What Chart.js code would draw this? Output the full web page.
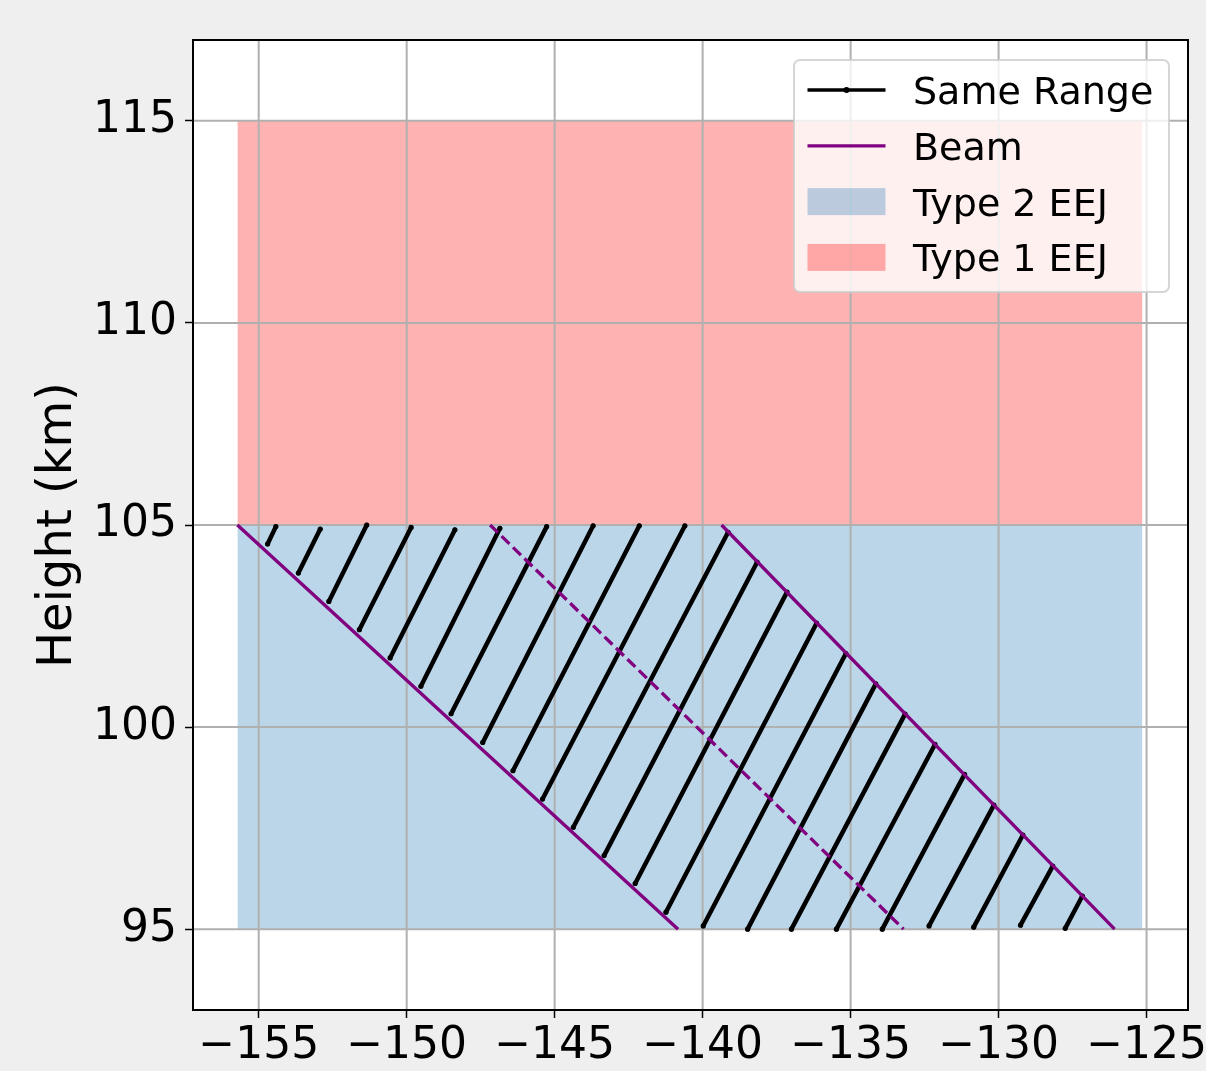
<!DOCTYPE html>
<html>
<head>
<meta charset="utf-8">
<title>Same Range lines across the EEJ layers</title>
<script src="https://cdn.jsdelivr.net/npm/chart.js@4.4.0/dist/chart.umd.min.js"></script>
<style>
  html, body { margin: 0; padding: 0; background: #efefef; }
  #wrap { width: 1206px; height: 1071px; }
</style>
</head>
<body>
<div id="wrap"><canvas id="chart" width="1206" height="1071"></canvas></div>
<script>
// tick values
const xTicks = [-155, -150, -145, -140, -135, -130, -125];
const yTicks = [95, 100, 105, 110, 115];

// EEJ layers: x extent and height limits (km)
const eejX = [-155.72, -125.14];
const type2Y = [95, 105];
const type1Y = [105, 115];

// beam edges + centre, top (105 km) to bottom (95 km)
const beamY = [105, 95];
const beamLowerX = [-155.72, -140.83];
const beamCenterX = [-147.18, -133.21];
const beamUpperX = [-139.36, -126.08];

// same range lines: lower end / upper end of each one
const rangeLowX = [-154.70, -153.66, -152.63, -151.60, -150.56, -149.52, -148.50, -147.43, -146.41, -145.41, -144.37, -143.33,
                   -142.28, -141.24, -139.98, -138.48, -137.00, -135.48, -133.93, -132.35, -130.84, -129.26, -127.75];
const rangeLowY = [104.53, 103.81, 103.11, 102.41, 101.71, 101.01, 100.33, 99.62, 98.92, 98.22, 97.52, 96.82,
                   96.13, 95.42, 95.08, 95.00, 95.00, 95.00, 95.00, 95.08, 95.05, 95.10, 95.02];
const rangeHighX = [-154.42, -152.92, -151.35, -149.85, -148.37, -146.85, -145.27, -143.70, -142.14, -140.60, -139.14, -138.16,
                    -137.15, -136.15, -135.16, -134.15, -133.16, -132.15, -131.15, -130.16, -129.18, -128.17, -127.17];
const rangeHighY = [104.96, 104.90, 105.00, 104.94, 104.88, 104.92, 104.96, 104.98, 104.98, 104.98, 104.82, 104.08,
                    103.34, 102.57, 101.82, 101.07, 100.32, 99.57, 98.83, 98.07, 97.33, 96.56, 95.82];

const legendLabels = ['Same Range', 'Beam', 'Type 2 EEJ', 'Type 1 EEJ'];

const PURPLE = '#800080';
const RED = 'rgba(255, 0, 0, 0.3)';
const BLUE = 'rgba(31, 119, 180, 0.3)';
const GRID = '#b0b0b0';
const FONT = 'DejaVu Sans';

const pts = (xs, ys) => xs.map((x, i) => ({ x: x, y: ys[i] }));
const minusFmt = v => (v < 0 ? '\u2212' + Math.abs(v) : String(v));

const datasets = [];

// layers (drawn underneath)
datasets.push({
    label: 'Type 1 EEJ', data: pts(eejX, [type1Y[1], type1Y[1]]),
    fill: { value: type1Y[0] }, backgroundColor: RED, borderColor: 'rgba(0,0,0,0)',
    pointRadius: 0, order: 3
});
datasets.push({
    label: 'Type 2 EEJ', data: pts(eejX, [type2Y[1], type2Y[1]]),
    fill: { value: type2Y[0] }, backgroundColor: BLUE, borderColor: 'rgba(0,0,0,0)',
    pointRadius: 0, order: 3
});

// one dataset per same range line
rangeLowX.forEach((x0, i) => {
    datasets.push({
        label: 'Same Range',
        data: [{ x: x0, y: rangeLowY[i] }, { x: rangeHighX[i], y: rangeHighY[i] }],
        borderColor: '#000', borderWidth: 4.5, borderCapStyle: 'round',
        pointRadius: 2.6, pointBackgroundColor: '#000', pointBorderWidth: 0,
        fill: false, order: 1
    });
});

// beam
datasets.push({ label: 'Beam', data: pts(beamLowerX, beamY), borderColor: PURPLE, borderWidth: 3.3, pointRadius: 0, fill: false, order: 0 });
datasets.push({ label: 'Beam', data: pts(beamUpperX, beamY), borderColor: PURPLE, borderWidth: 3.3, pointRadius: 0, fill: false, order: 0 });
datasets.push({ label: 'Beam', data: pts(beamCenterX, beamY), borderColor: PURPLE, borderWidth: 3.3, borderDash: [11, 5], pointRadius: 0, fill: false, order: 0 });

// white plot background, grid above the layers (matplotlib style), full frame
let gridDone = false;
const framePlugin = {
    id: 'frame',
    beforeDraw(chart) {
        const { ctx, chartArea: a } = chart;
        ctx.save();
        ctx.fillStyle = '#ffffff';
        ctx.fillRect(a.left, a.top, a.right - a.left, a.bottom - a.top);
        ctx.restore();
        gridDone = false;
    },
    beforeDatasetDraw(chart, args) {
        if (gridDone || args.meta.order > 1) return;
        gridDone = true;
        const { ctx, chartArea: a, scales } = chart;
        ctx.save();
        ctx.strokeStyle = GRID;
        ctx.lineWidth = 2;
        ctx.beginPath();
        xTicks.forEach(v => {
            const px = scales.x.getPixelForValue(v);
            ctx.moveTo(px, a.top);
            ctx.lineTo(px, a.bottom);
        });
        yTicks.forEach(v => {
            const py = scales.y.getPixelForValue(v);
            ctx.moveTo(a.left, py);
            ctx.lineTo(a.right, py);
        });
        ctx.stroke();
        ctx.restore();
    },
    afterDatasetsDraw(chart) {
        const { ctx, chartArea: a } = chart;
        ctx.save();
        ctx.strokeStyle = '#000';
        ctx.lineWidth = 2;
        ctx.strokeRect(a.left, a.top, a.right - a.left, a.bottom - a.top);
        ctx.restore();
    }
};

// legend box in the upper right corner, like matplotlib's
const legendPlugin = {
    id: 'boxLegend',
    afterDraw(chart) {
        const { ctx, chartArea: a } = chart;
        const w = 375, h = 232, r = 6;
        const left = a.right - 19 - w, top = a.top + 20;
        ctx.save();
        ctx.beginPath();
        ctx.moveTo(left + r, top);
        ctx.arcTo(left + w, top, left + w, top + h, r);
        ctx.arcTo(left + w, top + h, left, top + h, r);
        ctx.arcTo(left, top + h, left, top, r);
        ctx.arcTo(left, top, left + w, top, r);
        ctx.closePath();
        ctx.fillStyle = 'rgba(255, 255, 255, 0.8)';
        ctx.fill();
        ctx.strokeStyle = 'rgba(204, 204, 204, 0.8)';
        ctx.lineWidth = 2;
        ctx.stroke();

        const rowH = 55.8, hx0 = left + 13.5, hx1 = left + 91.5, tx = left + 119;
        legendLabels.forEach((label, i) => {
            const cy = top + 30 + i * rowH;
            if (i < 2) {
                ctx.beginPath();
                ctx.moveTo(hx0, cy);
                ctx.lineTo(hx1, cy);
                ctx.strokeStyle = i === 0 ? '#000' : PURPLE;
                ctx.lineWidth = i === 0 ? 3.5 : 3.3;
                ctx.stroke();
                if (i === 0) {
                    ctx.beginPath();
                    ctx.arc((hx0 + hx1) / 2, cy, 3, 0, Math.PI * 2);
                    ctx.fillStyle = '#000';
                    ctx.fill();
                }
            } else {
                ctx.fillStyle = i === 2 ? BLUE : RED;
                ctx.fillRect(hx0, cy - 13.5, hx1 - hx0, 27);
            }
            ctx.fillStyle = '#000';
            ctx.font = '38px "' + FONT + '"';
            ctx.textAlign = 'left';
            ctx.textBaseline = 'alphabetic';
            ctx.fillText(label, tx, cy + 14);
        });
        ctx.restore();
    }
};

const tickFont = { family: FONT, size: 44 };

new Chart(document.getElementById('chart').getContext('2d'), {
    type: 'line',
    data: { datasets: datasets },
    plugins: [framePlugin, legendPlugin],
    options: {
        responsive: false,
        animation: false,
        layout: { padding: { left: 0, top: 40, right: 18, bottom: 0 } },
        plugins: {
            legend: { display: false },
            tooltip: { enabled: false }
        },
        scales: {
            x: {
                type: 'linear',
                min: -157.22,
                max: -123.6,
                afterBuildTicks: s => { s.ticks = xTicks.map(v => ({ value: v })); },
                afterFit: s => { s.height = 61; s.paddingLeft = 0; s.paddingRight = 0; },
                ticks: { font: tickFont, color: '#000', padding: 2, maxRotation: 0, autoSkip: false, callback: v => minusFmt(v) },
                grid: { drawOnChartArea: false, color: GRID, tickColor: '#000', tickWidth: 1.5, tickLength: 8 },
                border: { display: true, color: '#000', width: 2 }
            },
            y: {
                type: 'linear',
                min: 93,
                max: 117,
                afterBuildTicks: s => { s.ticks = yTicks.map(v => ({ value: v })); },
                afterFit: s => { s.width = 193; s.paddingTop = 0; s.paddingBottom = 0; },
                ticks: { font: tickFont, color: '#000', padding: 8, autoSkip: false, callback: v => minusFmt(v) },
                grid: { drawOnChartArea: false, color: GRID, tickColor: '#000', tickWidth: 1.5, tickLength: 8 },
                border: { display: true, color: '#000', width: 2 },
                title: {
                    display: true,
                    text: 'Height (km)',
                    color: '#000',
                    font: { family: FONT, size: 48 },
                    padding: { top: 30, bottom: 0 }
                }
            }
        }
    }
});
</script>
</body>
</html>
